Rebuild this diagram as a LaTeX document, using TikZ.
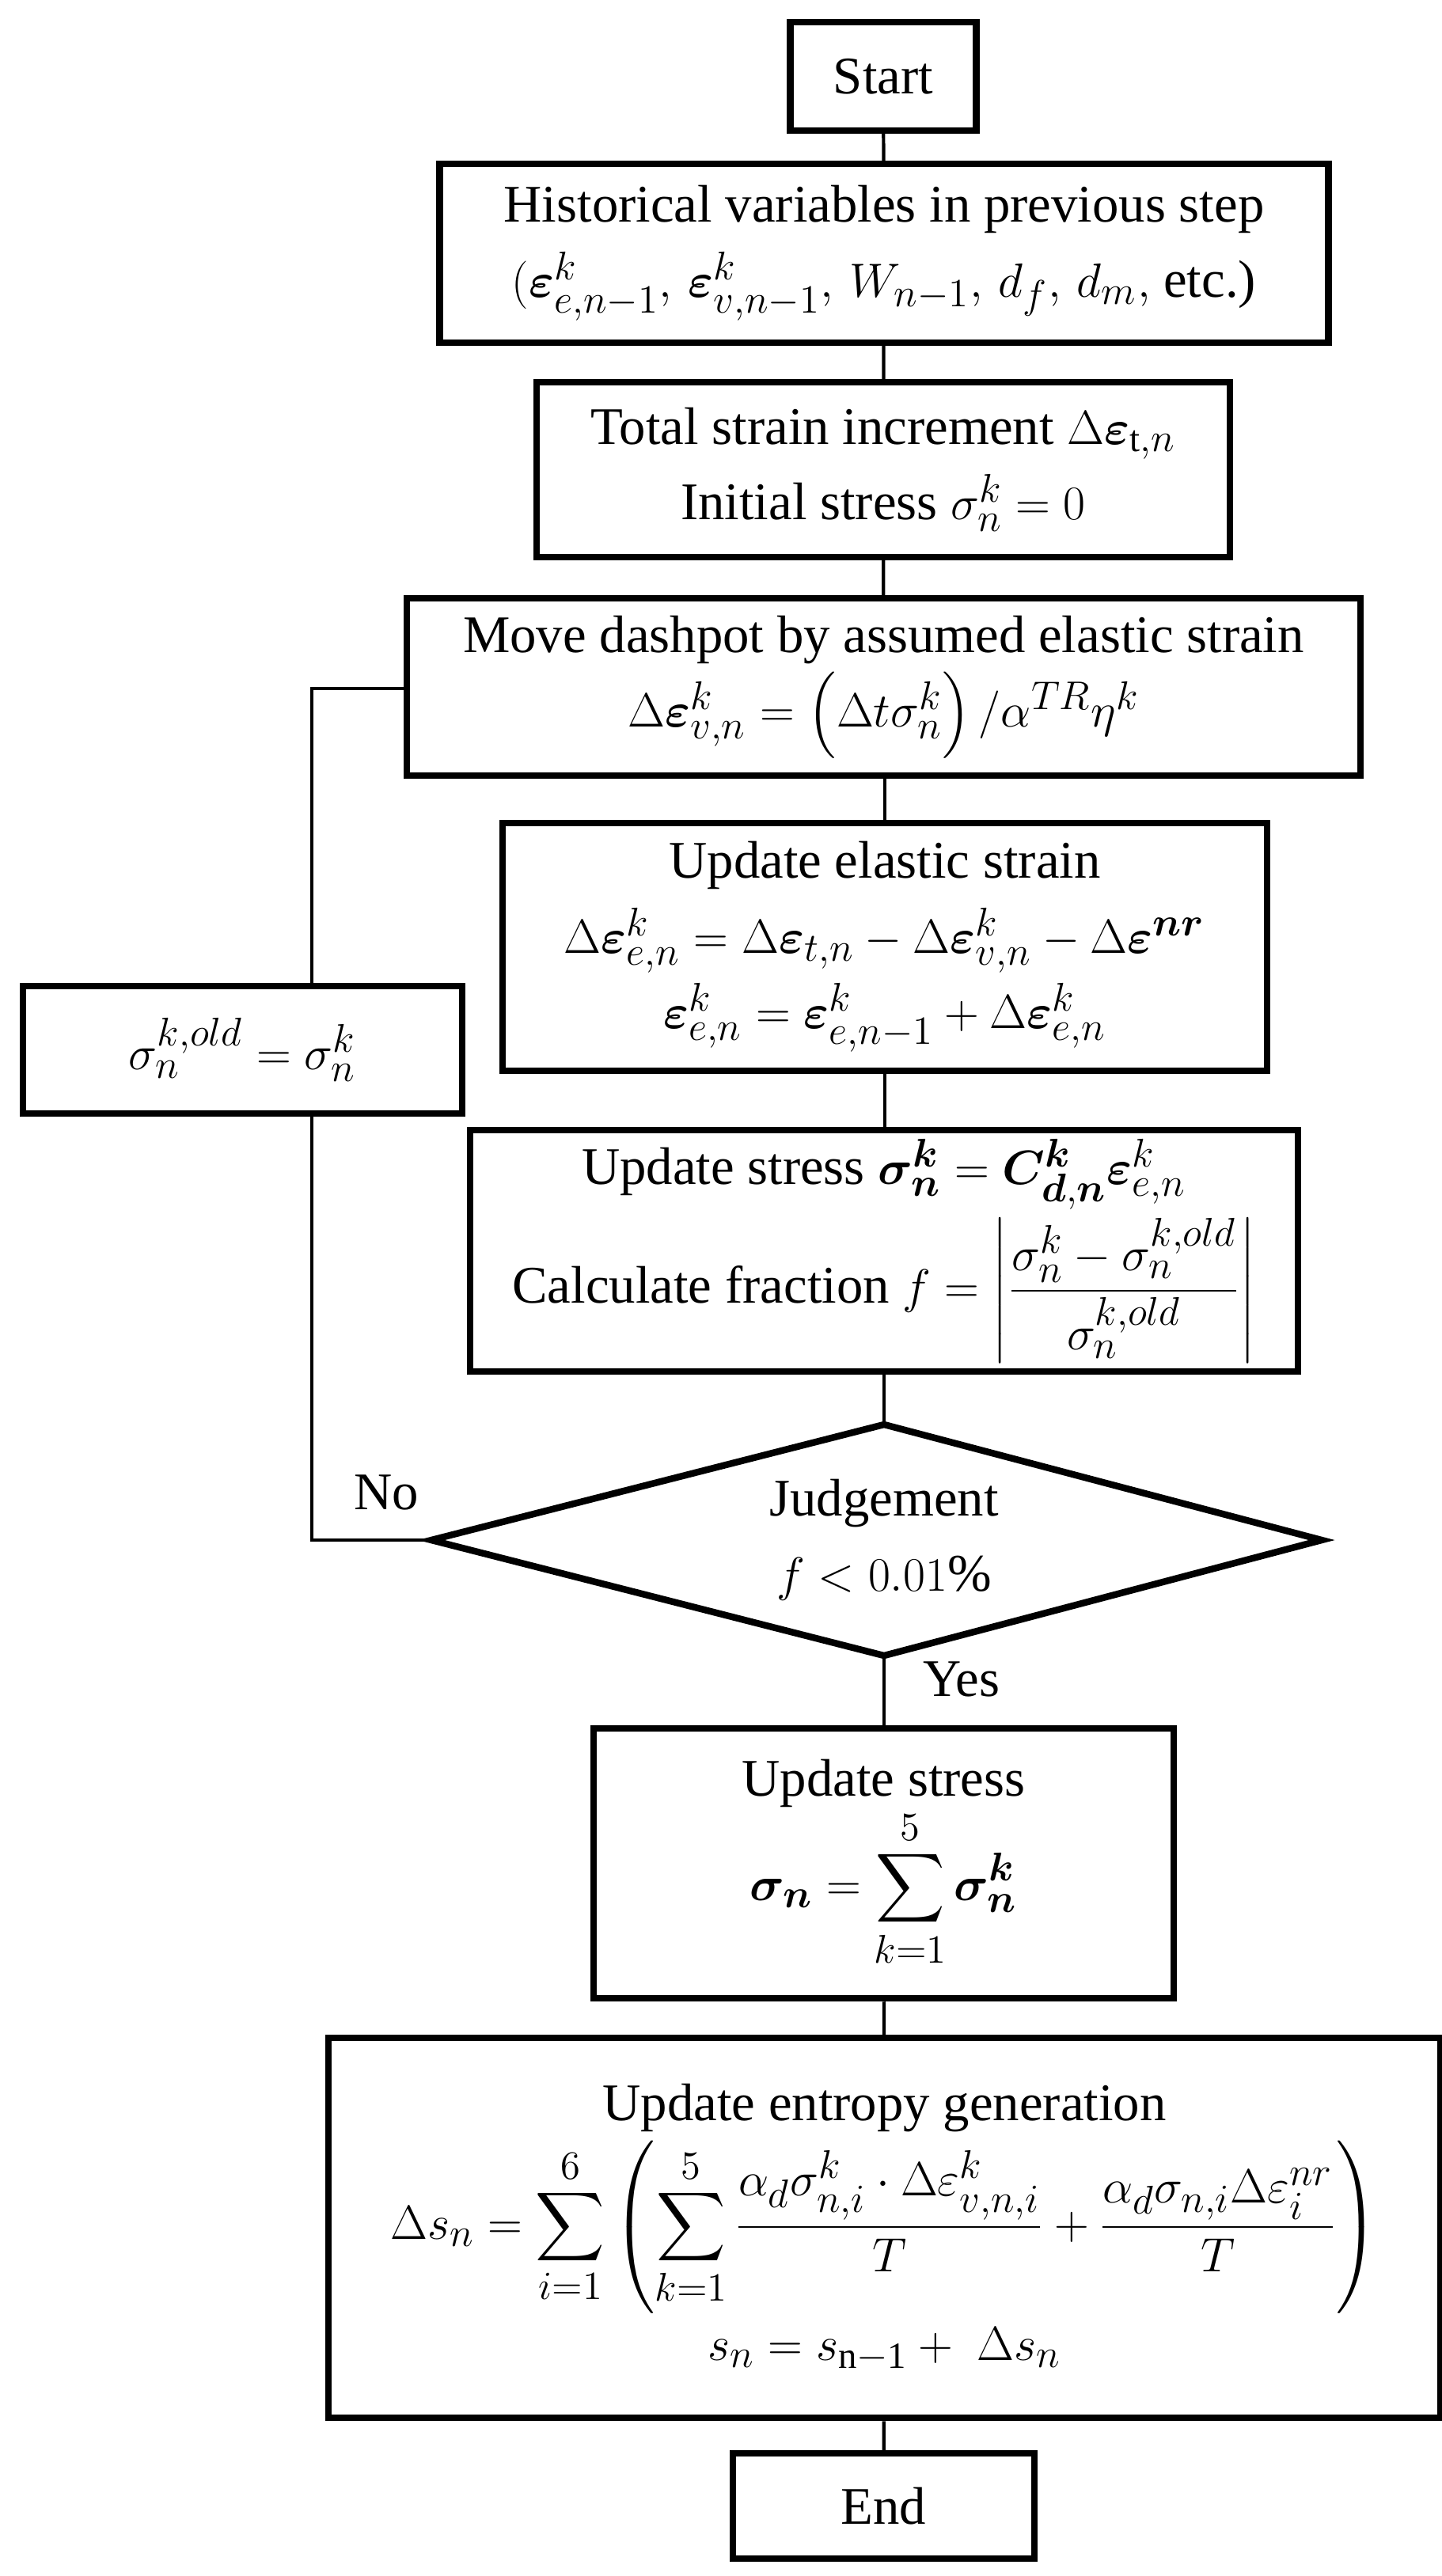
\documentclass[tikz,border=0pt]{standalone}
\usepackage{amsmath}
\usepackage{bm}
\usepackage{fontspec}
\setmainfont{Liberation Serif}
\usetikzlibrary{shapes.geometric}
\begin{document}
\begin{tikzpicture}[
  box/.style={draw, line width=2.4pt, align=center, inner sep=2pt, font=\fontsize{19}{27}\selectfont},
  link/.style={line width=1.2pt},
  lbl/.style={font=\fontsize{19}{22}\selectfont}
]
\useasboundingbox (0,0) rectangle (18.22,-32.55);
\node[box, minimum width=2.35cm, minimum height=1.37cm] (start) at (11.16,-0.965) {Start};
\node[box, minimum width=11.23cm, minimum height=2.26cm] (hist) at (11.17,-3.20)
  {Historical variables in previous step\\ $(\bm{\varepsilon}^{k}_{e,n-1},\,\bm{\varepsilon}^{k}_{v,n-1},\,W_{n-1},\,d_f,\,d_m,$ etc.)};
\node[box, minimum width=8.76cm, minimum height=2.21cm] (total) at (11.16,-5.935)
  {Total strain increment $\Delta\bm{\varepsilon}_{\mathrm{t},n}$\\ Initial stress $\sigma^{k}_{n}=0$};
\node[box, minimum width=12.05cm, minimum height=2.24cm] (move) at (11.165,-8.68)
  {Move dashpot by assumed elastic strain\\ $\Delta\bm{\varepsilon}^{k}_{v,n}=\left(\Delta t\sigma^{k}_{n}\right)/\alpha^{TR}\eta^{k}$};
\node[box, minimum width=9.66cm, minimum height=3.13cm] (elastic) at (11.18,-11.965)
  {Update elastic strain\\ $\Delta\bm{\varepsilon}^{k}_{e,n}=\Delta\bm{\varepsilon}_{t,n}-\Delta\bm{\varepsilon}^{k}_{v,n}-\Delta\bm{\varepsilon}^{\bm{nr}}$\\ $\bm{\varepsilon}^{k}_{e,n}=\bm{\varepsilon}^{k}_{e,n-1}+\Delta\bm{\varepsilon}^{k}_{e,n}$};
\node[box, minimum width=5.55cm, minimum height=1.61cm] (old) at (3.065,-13.265)
  {$\sigma_n^{k,old}=\sigma_n^{k}$};
\node[box, minimum width=10.46cm, minimum height=3.05cm] (stress) at (11.17,-15.805)
  {Update stress $\bm{\sigma}^{\bm{k}}_{\bm{n}}=\bm{C}^{\bm{k}}_{\bm{d},\bm{n}}\bm{\varepsilon}^{k}_{e,n}$\\[2pt]
   Calculate fraction $f=\left|\dfrac{\sigma_n^{k}-\sigma_n^{k,old}}{\sigma_n^{k,old}}\right|$};
% decision diamond
\coordinate (jN) at (11.17,-18.00);
\coordinate (jS) at (11.17,-20.92);
\coordinate (jW) at (5.45,-19.46);
\coordinate (jE) at (16.70,-19.46);
\draw[line width=2.4pt, line join=miter] (jN) -- (jE) -- (jS) -- (jW) -- cycle;
\node[align=center, font=\fontsize{19}{27}\selectfont] (judge) at (11.17,-19.46) {Judgement\\ $f<0.01\%$};
\node[box, minimum width=7.33cm, minimum height=3.41cm] (stress2) at (11.165,-23.545)
  {Update stress\\ $\bm{\sigma}_{\bm{n}}=\displaystyle\sum_{k=1}^{5}\bm{\sigma}^{\bm{k}}_{\bm{n}}$};
\node[box, minimum width=14.05cm, minimum height=4.8cm] (entropy) at (11.175,-28.15)
  {Update entropy generation\\[2pt]
   $\displaystyle\Delta s_n=\sum_{i=1}^{6}\left(\sum_{k=1}^{5}\frac{\alpha_d\sigma^{k}_{n,i}\cdot\Delta\varepsilon^{k}_{v,n,i}}{T}+\frac{\alpha_d\sigma_{n,i}\Delta\varepsilon^{nr}_{i}}{T}\right)$\\[4pt]
   $s_n=s_{\mathrm{n-1}}+\ \Delta s_n$};
\node[box, minimum width=3.81cm, minimum height=1.33cm] (end) at (11.165,-31.665) {End};
\coordinate (cb) at (3.94,-19.46);
\coordinate (ct) at (3.94,-8.70);
\draw[link] (start) -- (hist);
\draw[link] (hist) -- (total);
\draw[link] (total) -- (move);
\draw[link] (move.south -| elastic.north) -- (elastic.north);
\draw[link] (elastic) -- (elastic.south |- stress.north);
\draw[link] (stress.south -| jN) -- (jN);
\draw[link] (jS) -- (jS |- stress2.north);
\draw[link] (stress2) -- (entropy);
\draw[link] (entropy) -- (end);
\draw[link] (jW) -- (cb) -- (cb |- old.south);
\draw[link] (ct |- old.north) -- (ct) -- (ct -| move.west);
\node[lbl] (no) at (4.88,-18.86) {No};
\node[lbl] (yes) at (12.15,-21.22) {Yes};
\end{tikzpicture}
\end{document}
